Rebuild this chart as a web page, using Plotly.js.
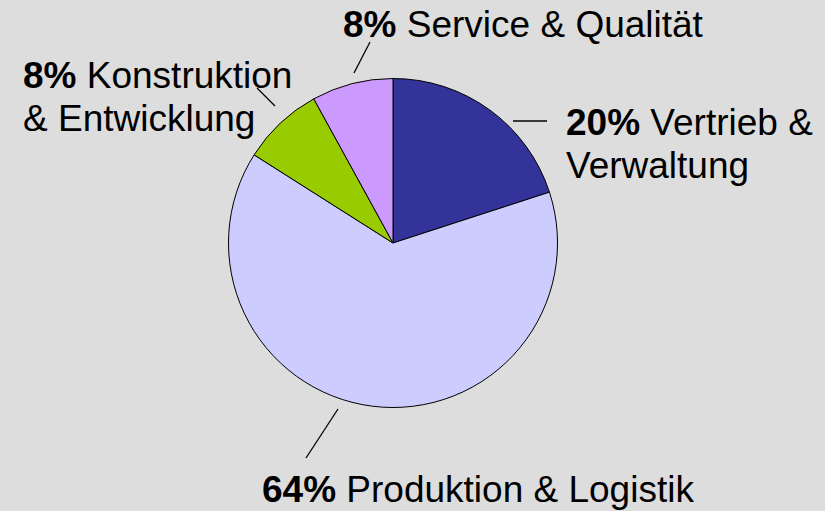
<!DOCTYPE html>
<html>
<head>
<meta charset="utf-8">
<script src="https://cdn.plot.ly/plotly-3.0.1.min.js"></script>
<style>
  html, body { margin: 0; padding: 0; background: #DDDDDD; }
  #chart { width: 825px; height: 511px; }
</style>
</head>
<body>
<div id="chart"></div>
<script>
// ---- data ----
const categories = ["Vertrieb & Verwaltung", "Produktion & Logistik", "Konstruktion & Entwicklung", "Service & Qualität"];
const shares = [20, 64, 8, 8];
const sliceColors = ["#333399", "#CCCCFF", "#99CC00", "#CC99FF"];
// label line breaks as in the picture
const labelLines = [
  ["Vertrieb &", "Verwaltung"],
  ["Produktion & Logistik"],
  ["Konstruktion", "& Entwicklung"],
  ["Service & Qualität"]
];

// ---- layout (pixel space) ----
const W = 825, H = 511;
const FS = 37, LINEGAP = 43;
const cx = 393, cy = 243, R = 164.5;
// label anchor: left x, first baseline y
const labelPos = [
  [564, 135],
  [260, 502],
  [21, 88],
  [341, 37]
];
// leader lines: [x0, y0, x1, y1]
const leaders = [
  [513, 121, 547, 121],
  [338, 409, 306, 458],
  [275, 106, 257, 88],
  [354, 73, 370, 42]
];

const px = x => x / W;
const py = y => 1 - y / H;

const annotations = [];
categories.forEach((c, i) => {
  labelLines[i].forEach((ln, j) => {
    const txt = j === 0 ? "<b>" + shares[i] + "%</b> " + ln : ln;
    const base = labelPos[i][1] + j * LINEGAP;
    annotations.push({
      xref: "paper", yref: "paper",
      x: px(labelPos[i][0]), y: py(base - 0.3465 * FS),
      xanchor: "left", yanchor: "middle",
      text: txt, showarrow: false,
      font: { family: "Liberation Sans, Arial, sans-serif", size: FS, color: "#000000" }
    });
  });
});

const shapes = leaders.map(l => ({
  type: "line", xref: "paper", yref: "paper",
  x0: px(l[0]), y0: py(l[1]), x1: px(l[2]), y1: py(l[3]),
  line: { color: "#000000", width: 1.3 }
}));

const trace = {
  type: "pie",
  labels: categories,
  values: shares,
  sort: false,
  direction: "clockwise",
  rotation: 0,
  textinfo: "none",
  hoverinfo: "label+percent",
  marker: { colors: sliceColors, line: { color: "#000000", width: 1 } },
  domain: { x: [(cx - R) / W, (cx + R) / W], y: [1 - (cy + R) / H, 1 - (cy - R) / H] },
  showlegend: false
};

const layout = {
  width: W, height: H,
  margin: { l: 0, r: 0, t: 0, b: 0 },
  paper_bgcolor: "#DDDDDD",
  plot_bgcolor: "#DDDDDD",
  showlegend: false,
  annotations: annotations,
  shapes: shapes
};

Plotly.newPlot("chart", [trace], layout, { displayModeBar: false, staticPlot: true });
</script>
</body>
</html>
